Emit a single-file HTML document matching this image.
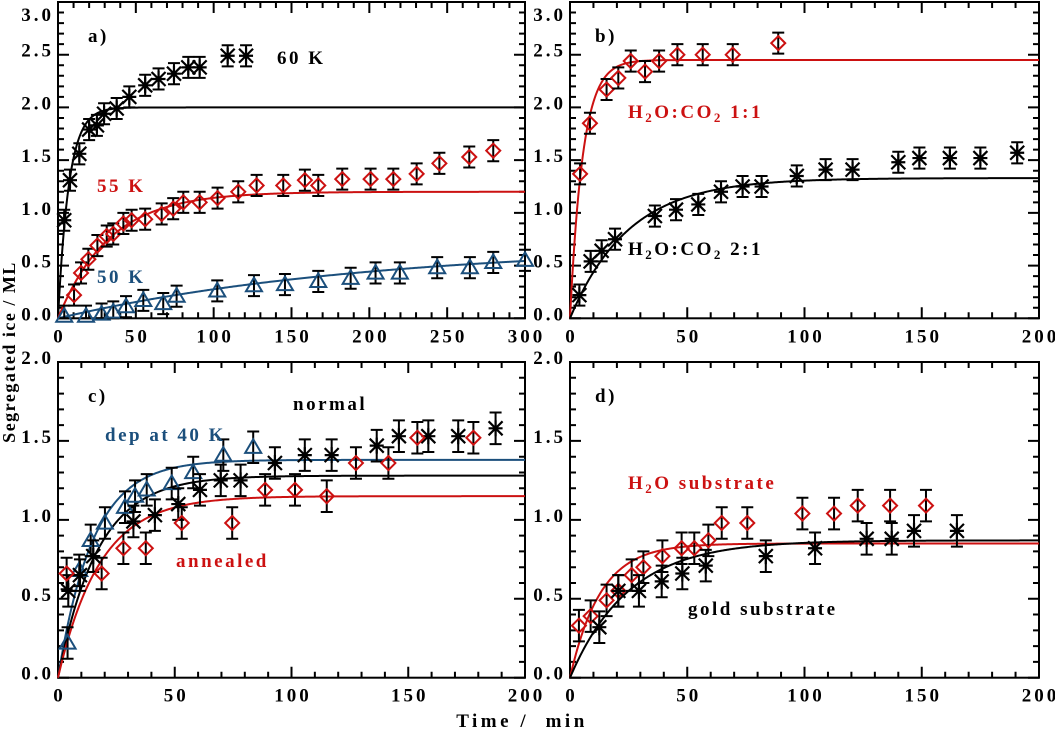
<!DOCTYPE html>
<html><head><meta charset="utf-8"><style>
html,body{margin:0;padding:0;background:#fff;}
svg{display:block;font-family:"Liberation Serif",serif;font-weight:bold;}
.ann{font-size:19px;letter-spacing:2.5px;}
</style></head><body>
<svg id="chart" width="1055" height="735" viewBox="0 0 1055 735" xmlns="http://www.w3.org/2000/svg">
<g id="layer"></g>
<text x="522" y="727" class="ann" style="letter-spacing:3.5px" text-anchor="middle" xml:space="preserve">Time /  min</text>
<text x="0" y="0" font-size="18" letter-spacing="1.5" text-anchor="middle" transform="translate(15,352) rotate(-90)">Segregated ice / ML</text>
<text x="88" y="42" class="ann">a)</text>
<text x="277" y="64" class="ann" fill="#000">60 K</text>
<text x="97" y="192" class="ann" fill="#cc1111">55 K</text>
<text x="97" y="283" class="ann" fill="#1b4f7c">50 K</text>
<text x="595" y="42" class="ann">b)</text>
<text x="628" y="118" class="ann" fill="#cc1111">H<tspan font-size="13" dy="4">2</tspan><tspan dy="-4">O:CO</tspan><tspan font-size="13" dy="4">2</tspan><tspan dy="-4"> 1:1</tspan></text>
<text x="628" y="255" class="ann" fill="#000">H<tspan font-size="13" dy="4">2</tspan><tspan dy="-4">O:CO</tspan><tspan font-size="13" dy="4">2</tspan><tspan dy="-4"> 2:1</tspan></text>
<text x="88" y="402" class="ann">c)</text>
<text x="293" y="410" class="ann" fill="#000">normal</text>
<text x="105" y="441" class="ann" fill="#1b4f7c">dep at 40 K</text>
<text x="176" y="567" class="ann" fill="#cc1111">annealed</text>
<text x="595" y="402" class="ann">d)</text>
<text x="628" y="489" class="ann" fill="#cc1111">H<tspan font-size="13" dy="4">2</tspan><tspan dy="-4">O substrate</tspan></text>
<text x="688" y="615" class="ann" fill="#000">gold substrate</text>
</svg>
<script>
// Panel a
const a60x=[4,7.7,13.7,20,25,29.6,37.7,45.8,56,64.6,74.5,83.7,91,109,120.8];
const a60y=[0.93,1.31,1.56,1.79,1.83,1.94,1.99,2.1,2.21,2.27,2.32,2.38,2.38,2.49,2.49];
const a55x=[10.3,14.8,19.5,25.3,31.3,35.5,42,47.3,56,66.6,74,80.5,91,102.5,115.8,127.6,144.7,158.6,167.2,182.6,200.8,215.4,230.4,245,264.2,279.6];
const a55y=[0.22,0.43,0.56,0.69,0.78,0.8,0.9,0.93,0.94,0.99,1.04,1.1,1.1,1.14,1.2,1.26,1.26,1.31,1.26,1.32,1.32,1.32,1.37,1.47,1.53,1.59];
const a50x=[4,18,28,35.5,43.7,54.8,67.6,76.2,102.3,125.9,145.8,167.2,188,204,219.6,243.6,264.6,279.6,300];
const a50y=[0.02,0.02,0.04,0.06,0.11,0.17,0.14,0.21,0.26,0.31,0.32,0.35,0.38,0.43,0.43,0.48,0.48,0.53,0.55];
// Panel b
const b11x=[4.3,8.5,15.6,20.6,25.9,32,38,45.8,56.6,69.4,88.8];
const b11y=[1.37,1.85,2.17,2.28,2.44,2.34,2.44,2.5,2.5,2.5,2.61];
const b21x=[4,8.8,13.5,19.2,36.2,45.2,54.7,64.4,73.6,81.7,96.7,109,120.5,140,149,162,175,190.7];
const b21y=[0.22,0.54,0.64,0.75,0.97,1.03,1.08,1.2,1.25,1.25,1.35,1.41,1.41,1.48,1.52,1.52,1.52,1.57];
// Panel c
const cDepX=[4.1,9.1,14,20.1,28.7,33,38,48.7,57.9,70.8,83.6];
const cDepY=[0.22,0.68,0.87,0.98,1.08,1.15,1.19,1.23,1.3,1.41,1.46];
const cNormX=[4.4,9.4,15.1,32.3,41.5,51.5,60.8,69.7,78.2,92.9,105.7,117.2,136.5,146,158.6,171.4,187.4];
const cNormY=[0.55,0.65,0.77,0.99,1.03,1.1,1.19,1.25,1.25,1.36,1.41,1.41,1.47,1.53,1.53,1.53,1.58];
const cAnnX=[3.7,18.7,28,37.6,53,74.6,88.7,101.5,115.1,127.6,141.5,153.9,177.9];
const cAnnY=[0.66,0.66,0.82,0.82,0.98,0.98,1.19,1.19,1.15,1.36,1.36,1.52,1.52];
// Panel d
const dH2oX=[3.8,8.8,15.6,20.6,26.3,31.3,39.4,47.6,53,59,64.7,75.6,99.1,112.6,122.7,136.5,151.8];
const dH2oY=[0.33,0.39,0.49,0.55,0.65,0.7,0.77,0.82,0.82,0.87,0.98,0.98,1.04,1.04,1.09,1.09,1.09];
const dGoldX=[12.5,20.6,29.4,39.1,47.9,57.9,83.5,104.5,126.5,137.2,146.7,165];
const dGoldY=[0.32,0.55,0.55,0.61,0.66,0.71,0.77,0.82,0.88,0.88,0.93,0.93];
// Fit parameters: amplitude, time constant
const fitAmp=[2.0,1.2,0.7,2.45,1.33,1.38,1.28,1.15,0.85,0.87];
const fitTau=[7,33,200,5.5,25,15,17,18,13,25];
const errBar=0.1;
const xTicksA=["0","50","100","150","200","250","300"];
const xTicksB=["0","50","100","150","200"];
const yTicks3=["0.0","0.5","1.0","1.5","2.0","2.5","3.0"];
const yTicks2=["0.0","0.5","1.0","1.5","2.0"];

const NS="http://www.w3.org/2000/svg";
const layer=document.getElementById('layer');
const RED="#cc1111",BLUE="#1b4f7c",BLK="#000";
function mk(tag,attrs,parent){const e=document.createElementNS(NS,tag);for(const k in attrs)e.setAttribute(k,attrs[k]);(parent||layer).appendChild(e);return e;}

function panel(name,L,R,B,T,xmax,ymax,xt,yt){
  const g=mk('g',{});
  
  
  const p={L,R,B,T,xmax,ymax,g,
    sx:v=>L+(R-L)*v/xmax, sy:v=>B-(B-T)*v/ymax};
  const fr=mk('rect',{x:L,y:T,width:R-L,height:B-T,fill:'none',stroke:'#000','stroke-width':2},g);
  
  
  let d='';
  for(let v=0;v<=xmax+1e-9;v+=10){const x=p.sx(v);const len=(Math.round(v)%50===0)?11:6;d+=`M${x},${B}v${-len}M${x},${T}v${len}`;}
  for(let k=0;k<=Math.round(ymax*10);k++){const v=k/10;const y=p.sy(v);const len=(k%5===0)?11:6;d+=`M${L},${y}h${len}M${R},${y}h${-len}`;}
  const tk=mk('path',{d,stroke:'#000','stroke-width':2,fill:'none'},g);
  
  
  xt.forEach(s=>{const t=mk('text',{x:p.sx(+s)+1.5,y:B+24,'font-size':19,'letter-spacing':3,'text-anchor':'middle'},g);t.textContent=s;
    
    });
  yt.forEach(s=>{const t=mk('text',{x:L-4,y:Math.max(21,p.sy(+s)+2),'font-size':19,'letter-spacing':3,'text-anchor':'end'},g);t.textContent=s;
    
    });
  return p;
}
function fit(p,i,color,name){
  let d='';
  for(let k=0;k<=400;k++){const t=p.xmax*k/400;const v=fitAmp[i]*(1-Math.exp(-t/fitTau[i]));d+=(k?'L':'M')+p.sx(t).toFixed(2)+','+p.sy(v).toFixed(2);}
  const e=mk('path',{d,stroke:color,'stroke-width':2,fill:'none'},p.g);
  
  
}
function series(p,xs,ys,type,color,name){
  const g=mk('g',{},p.g);
  
  
  xs.forEach((xv,i)=>{
    const x=p.sx(xv),y=p.sy(ys[i]);
    const yt=Math.max(p.T,p.sy(ys[i]+errBar)),yb=Math.min(p.B,p.sy(ys[i]-errBar));
    const eb=mk('path',{d:`M${x},${yt}V${yb}M${x-6},${yt}h12M${x-6},${yb}h12`,stroke:'#000','stroke-width':2,fill:'none'},g);
    
    
    let m;
    if(type==='ast'){const r=7;m=mk('path',{d:`M${x-r},${y-r}L${x+r},${y+r}M${x-r},${y+r}L${x+r},${y-r}M${x},${y-r-1}V${y+r+1}M${x-r},${y}H${x+r}`,stroke:color,'stroke-width':2.2,fill:'none'},g);}
    else if(type==='dia'){const r=7;m=mk('path',{d:`M${x},${y-r}L${x+r},${y}L${x},${y+r}L${x-r},${y}Z`,stroke:color,'stroke-width':2,fill:'none'},g);}
    else {const r=8;m=mk('path',{d:`M${x},${y-r}L${x+r},${y+r*0.7}L${x-r},${y+r*0.7}Z`,stroke:color,'stroke-width':2,fill:'none'},g);}
    
    
  });
}
const pa=panel('panel-a',58,525,318.3,2,300,3,xTicksA,yTicks3);
const pb=panel('panel-b',570,1039,318.3,2,200,3,xTicksB,yTicks3);
const pc=panel('panel-c',58,525,677.7,362,200,2,xTicksB,yTicks2);
const pd=panel('panel-d',570,1039,677.7,362,200,2,xTicksB,yTicks2);

fit(pa,0,BLK,'fit-60k');fit(pa,1,RED,'fit-55k');fit(pa,2,BLUE,'fit-50k');
series(pa,a60x,a60y,'ast',BLK,'series-60k');
series(pa,a55x,a55y,'dia',RED,'series-55k');
series(pa,a50x,a50y,'tri',BLUE,'series-50k');

fit(pb,3,RED,'fit-ratio-1-1');fit(pb,4,BLK,'fit-ratio-2-1');
series(pb,b11x,b11y,'dia',RED,'series-ratio-1-1');
series(pb,b21x,b21y,'ast',BLK,'series-ratio-2-1');

fit(pc,5,BLUE,'fit-dep-40k');fit(pc,6,BLK,'fit-normal');fit(pc,7,RED,'fit-annealed');
series(pc,cDepX,cDepY,'tri',BLUE,'series-dep-40k');
series(pc,cNormX,cNormY,'ast',BLK,'series-normal');
series(pc,cAnnX,cAnnY,'dia',RED,'series-annealed');

fit(pd,8,RED,'fit-h2o-substrate');fit(pd,9,BLK,'fit-gold-substrate');
series(pd,dH2oX,dH2oY,'dia',RED,'series-h2o-substrate');
series(pd,dGoldX,dGoldY,'ast',BLK,'series-gold-substrate');
</script>
</body></html>
